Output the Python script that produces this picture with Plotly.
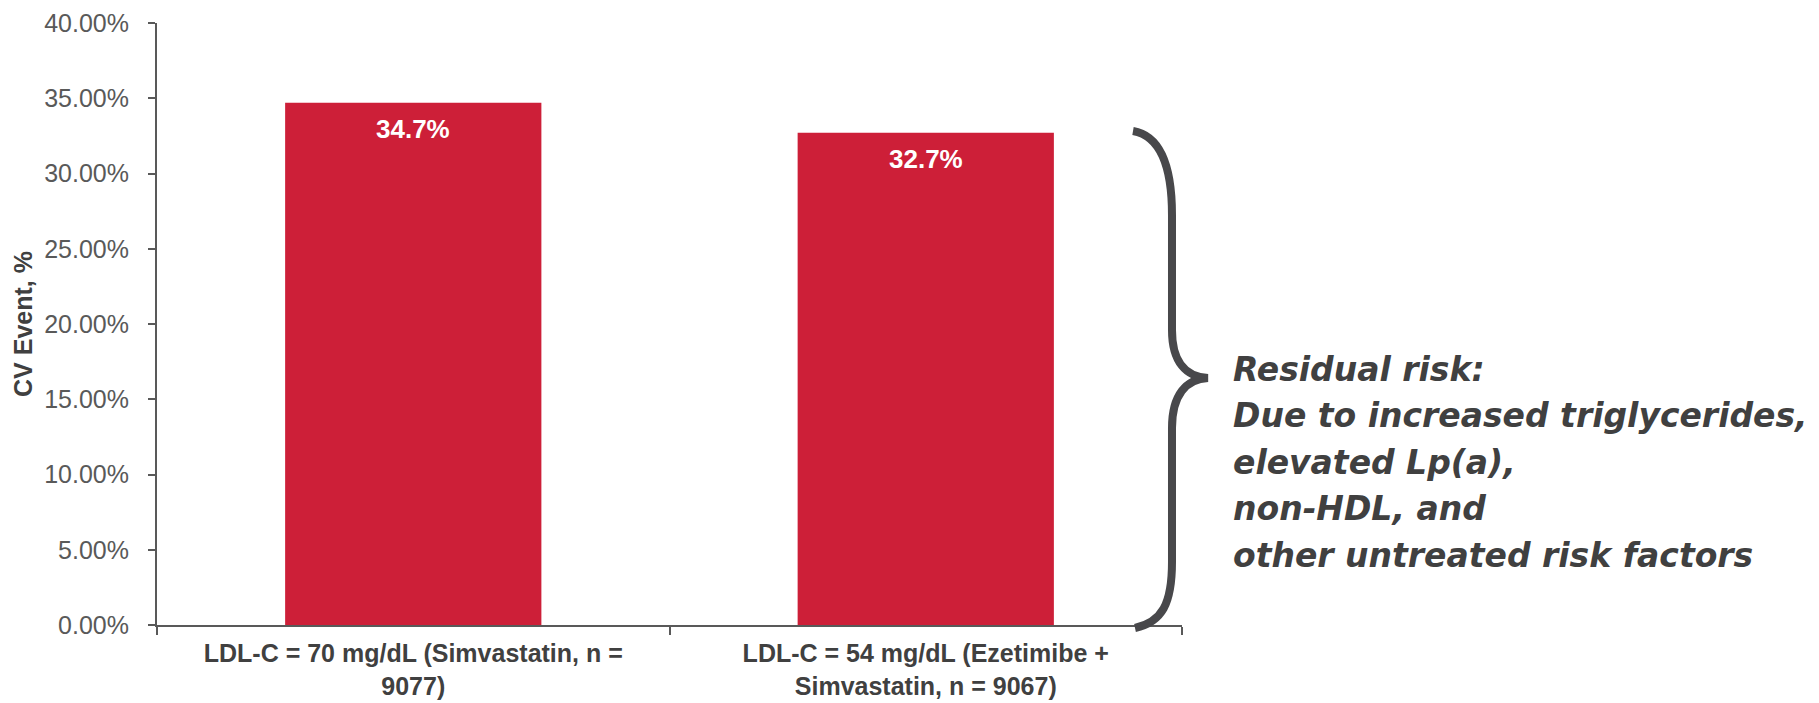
import plotly.graph_objects as go

# Chart data
categories = [
    "LDL-C = 70 mg/dL (Simvastatin, n =<br>9077)",
    "LDL-C = 54 mg/dL (Ezetimibe +<br>Simvastatin, n = 9067)",
]
cv_event_pct = [34.7, 32.7]
y_ticks = [0, 5, 10, 15, 20, 25, 30, 35, 40]
note_lines = [
    "Residual risk:",
    "Due to increased triglycerides,",
    "elevated Lp(a),",
    "non-HDL, and",
    "other untreated risk factors",
]

# Canvas / plot-area geometry (pixels)
W, H = 1819, 703
L, R, T, B = 157, 637, 23, 78
PW, PH = W - L - R, H - T - B

def px(x):
    return (x - L) / PW

def py(y):
    return (H - B - y) / PH

BAR = "#CD1F38"
AXIS = "#595959"
TEXT = "#404040"
BRACE = "#48484B"
FONT = "Liberation Sans, Arial, sans-serif"

fig = go.Figure(
    go.Bar(
        x=categories,
        y=cv_event_pct,
        width=0.5,
        marker=dict(color=BAR, line=dict(width=0)),
        hoverinfo="skip",
    )
)

# Value labels just inside the top of each bar
for cat, val in zip(categories, cv_event_pct):
    fig.add_annotation(
        x=cat, y=val, xref="x", yref="y",
        text=f"<b>{val:.1f}%</b>",
        showarrow=False, yanchor="middle", yshift=-26,
        font=dict(family=FONT, size=26, color="white"),
    )

# Curly brace spanning the bars, drawn in pixel space then mapped to paper
pts = [
    ("M", [(1133, 131)]),
    ("C", [(1162, 136), (1172, 170), (1172, 215)]),
    ("L", [(1172, 330)]),
    ("C", [(1172, 362), (1186, 377), (1208, 378)]),
    ("C", [(1186, 379), (1172, 395), (1172, 428)]),
    ("L", [(1172, 562)]),
    ("C", [(1172, 604), (1162, 622), (1135, 628)]),
]
path = " ".join(
    cmd + " " + " ".join(f"{px(x):.5f},{py(y):.5f}" for x, y in coords)
    for cmd, coords in pts
)
fig.add_shape(
    type="path", path=path, xref="paper", yref="paper",
    line=dict(color=BRACE, width=8), layer="above",
)

# Explanatory note to the right of the brace
line_y0, line_gap = 369, 46.5
for i, txt in enumerate(note_lines):
    fig.add_annotation(
        x=px(1231), y=py(line_y0 + i * line_gap), xref="paper", yref="paper",
        text=f"<b><i>{txt}</i></b>", showarrow=False,
        xanchor="left", yanchor="middle",
        font=dict(family="DejaVu Sans, sans-serif", size=33, color=TEXT),
    )

fig.update_layout(
    width=W, height=H,
    margin=dict(l=L, r=R, t=T, b=B, autoexpand=False),
    plot_bgcolor="white", paper_bgcolor="white",
    showlegend=False,
    bargap=0.5,
)
fig.update_xaxes(
    range=[-0.5, 1.5],
    showline=True, linecolor=AXIS, linewidth=2,
    ticks="outside", tickson="boundaries", ticklen=8, tickwidth=2, tickcolor=AXIS,
    showgrid=False, zeroline=False,
    tickfont=dict(family=FONT, size=25, color=TEXT, weight="bold"),
    ticklabelstandoff=5,
    automargin=False,
)
fig.update_yaxes(
    range=[0, 40],
    tickvals=y_ticks, ticktext=[f"{v:.2f}%" for v in y_ticks],
    showline=True, linecolor=AXIS, linewidth=2,
    ticks="outside", ticklen=7, tickwidth=2, tickcolor=AXIS,
    showgrid=False, zeroline=False,
    tickfont=dict(family=FONT, size=25, color=AXIS),
    ticklabelstandoff=14,
    title=dict(text="<b>CV Event, %</b>", standoff=4,
               font=dict(family=FONT, size=25, color=TEXT)),
    automargin=False,
)

fig.write_html("out.html")
